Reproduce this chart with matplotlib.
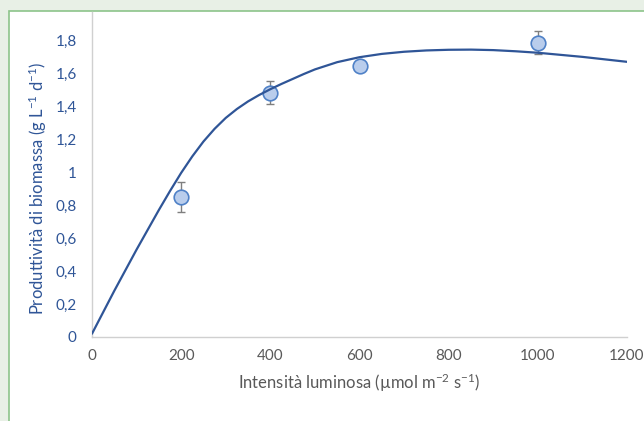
import matplotlib
matplotlib.use("Agg")
import matplotlib.pyplot as plt
from matplotlib.patches import Rectangle
from matplotlib.ticker import FuncFormatter

# measured points (mean +/- sd)
luce = [200, 400, 600, 1000]
produttivita = [0.85, 1.48, 1.645, 1.785]
errore = [0.09, 0.07, 0.02, 0.07]

# fitted curve
curva_x = [0, 50, 100, 150, 175, 200, 225, 250, 275, 300, 325, 350, 375,
           400, 425, 450, 475, 500, 550, 600, 650, 700, 750, 800, 850, 900,
           950, 1000, 1100, 1200]
curva_y = [0.02, 0.28, 0.53, 0.77, 0.885, 0.995, 1.095, 1.185, 1.262, 1.328,
           1.382, 1.428, 1.467, 1.502, 1.534, 1.564, 1.594, 1.622, 1.666,
           1.696, 1.716, 1.729, 1.737, 1.741, 1.742, 1.739, 1.732, 1.723,
           1.698, 1.668]

y_ticks = [0, 0.2, 0.4, 0.6, 0.8, 1.0, 1.2, 1.4, 1.6, 1.8]
x_ticks = [0, 200, 400, 600, 800, 1000, 1200]

plt.rcParams['font.family'] = ['Lato', 'DejaVu Sans']
plt.rcParams['mathtext.fontset'] = 'custom'
plt.rcParams['mathtext.rm'] = 'Lato'
plt.rcParams['mathtext.it'] = 'Lato'
plt.rcParams['axes.unicode_minus'] = False

blu = '#2f5597'
grigio = '#595959'

fig = plt.figure(figsize=(6.44, 4.21), dpi=100)
fig.patch.set_facecolor('#e8f0e6')

# white panel with green border
W, H = 644, 421
fig.patches.append(Rectangle((9 / W, -0.05), 1.0, (H - 11) / H + 0.05,
                             transform=fig.transFigure, facecolor='white',
                             edgecolor='#8cc48a', linewidth=1.2, zorder=-10))

ax = fig.add_axes([92 / W, (H - 337) / H, (627 - 92) / W, (337 - 12) / H])
ax.set_facecolor('none')

ax.plot(curva_x, curva_y, color=blu, linewidth=1.6, zorder=4,
        solid_capstyle='round', solid_joinstyle='round')
ax.errorbar(luce, produttivita, yerr=errore, fmt='none', ecolor='#7f7f7f',
            elinewidth=1.0, capsize=3, capthick=1.0, zorder=2)
ax.plot(luce, produttivita, 'o', markersize=10.5, markerfacecolor='#b9cdec',
        markeredgecolor='#4f81c7', markeredgewidth=1.2, zorder=3)

ax.set_xlim(0, 1200)
ax.set_ylim(0, 1.97)
ax.set_xticks(x_ticks)
ax.set_yticks(y_ticks)


def virgola(v, pos):
    s = ('%.1f' % v).rstrip('0').rstrip('.')
    return s.replace('.', ',')


ax.yaxis.set_major_formatter(FuncFormatter(virgola))
ax.tick_params(axis='both', length=0, labelsize=11)
ax.tick_params(axis='y', pad=11, labelcolor=blu)
ax.tick_params(axis='x', pad=9, labelcolor=grigio)

for s in ['top', 'right']:
    ax.spines[s].set_visible(False)
for s in ['left', 'bottom']:
    ax.spines[s].set_color('#d0d0d0')
    ax.spines[s].set_linewidth(1.0)

ax.set_ylabel('Produttività di biomassa (g L$^{-1}$ d$^{-1}$)', color=blu,
              fontsize=12)
ax.yaxis.set_label_coords(-0.08, 0.458)
ax.set_xlabel('Intensità luminosa (µmol m$^{-2}$ s$^{-1}$)', color=grigio,
              fontsize=12, labelpad=6)

fig.savefig('out.png', dpi=100, facecolor=fig.get_facecolor())
